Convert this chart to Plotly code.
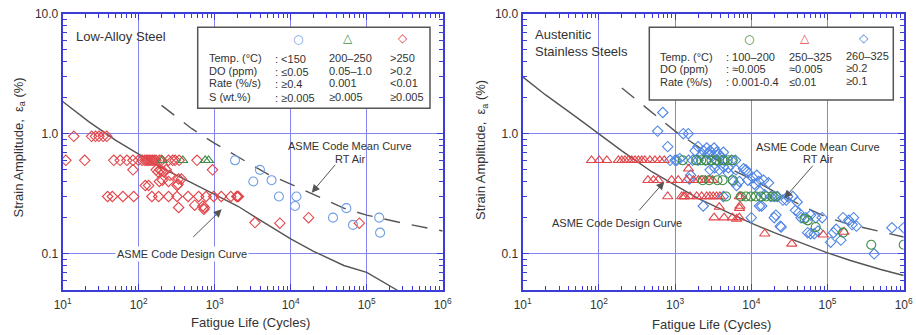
import math
import plotly.graph_objects as go

W, H = 916, 335
FONT = "Liberation Sans, Arial, sans-serif"
SYMFONT = "DejaVu Sans, sans-serif"
TXT = "#333333"
RED = "#e2464b"
BLUE_C = "#6f9fe3"
BLUE_D = "#4f86e6"
GREEN = "#3e8e45"
FRAME = "#3c3cd8"
GRID = "#8585f0"
CURVE = "#555555"

# ---------------- Low-alloy steel data ----------------
la_red_N = [14, 24, 27, 30, 34, 38,
            11, 19.5, 47, 57, 70, 84, 99, 111, 120, 126, 132, 138, 145, 152, 160, 169, 187, 200, 247, 280, 301, 340, 585,
            84, 935, 170, 180, 190, 200, 215, 230,
            122, 135, 187, 205, 247, 258, 320, 335, 365, 330,
            39, 45, 62, 86, 149, 183, 247, 319, 447, 615, 770, 970, 1220, 1630, 1950, 2000, 2050,
            335, 545, 700, 730, 720, 3390, 7200, 17200, 80000]
la_red_e = [0.95, 0.95, 0.95, 0.95, 0.95, 0.95,
            0.6, 0.6, 0.6, 0.6, 0.6, 0.6, 0.6, 0.6, 0.6, 0.6, 0.6, 0.6, 0.6, 0.6, 0.6, 0.6, 0.6, 0.6, 0.6, 0.6, 0.6, 0.6, 0.6,
            0.5, 0.5, 0.5, 0.48, 0.5, 0.49, 0.48, 0.5,
            0.37, 0.37, 0.40, 0.41, 0.40, 0.45, 0.37, 0.42, 0.42, 0.38,
            0.3, 0.3, 0.3, 0.3, 0.3, 0.3, 0.3, 0.3, 0.3, 0.3, 0.3, 0.3, 0.3, 0.3, 0.3, 0.3, 0.3,
            0.243, 0.254, 0.25, 0.243, 0.235, 0.182, 0.18, 0.20, 0.18]
la_blue_N = [1850, 3940, 3220, 5600, 7000, 11900, 11400, 36000, 54000, 66000, 146000, 150000]
la_blue_e = [0.60, 0.50, 0.40, 0.41, 0.30, 0.30, 0.25, 0.20, 0.24, 0.174, 0.20, 0.15]
la_green_N = [205, 380, 750, 830]
la_green_e = [0.6, 0.6, 0.6, 0.6]

la_design_N = [10, 22, 50, 100, 200, 500, 1000, 2000, 3500, 10000, 20000, 50000, 100000, 250000, 400000]
la_design_e = [1.85, 1.26, 0.88, 0.68, 0.52, 0.39, 0.31, 0.25, 0.20, 0.133, 0.105, 0.08, 0.07, 0.05, 0.043]
la_mean_N = [200, 500, 1000, 2000, 5000, 10000, 20000, 50000, 100000, 300000, 1000000]
la_mean_e = [1.72, 1.1, 0.83, 0.64, 0.46, 0.38, 0.31, 0.24, 0.21, 0.18, 0.155]

# ---------------- Austenitic stainless steel data ----------------
ss_red_N = [80, 101, 127, 180, 200, 220, 243, 270, 298, 330, 365, 400, 468, 544, 630, 720,
            1500,
            440, 520, 600, 900, 1100, 1420, 1740, 2020, 2250, 2500, 2800, 3100,
            800, 1220, 1300, 1350, 1570, 1920, 2230, 2600, 2860, 3160, 3500, 3870, 6960, 7300,
            3800, 7100, 7000, 6400,
            3250, 4400, 5660, 6960,
            15000, 34000, 88000, 165000]
ss_red_e = [0.6] * 16 + [0.51] + [0.41] * 12 + [0.3] * 14 + [0.245, 0.25, 0.24, 0.195] + [0.2] * 4 + \
           [0.147, 0.121, 0.144, 0.152]
ss_green_N = [1260, 1890, 2200, 2570, 3000, 3440, 4200, 4900, 5700,
              2300, 2800, 3600, 4200, 5700,
              4660, 7300, 8500, 9900, 11500, 13400, 15600, 19000, 21000,
              50000, 55000, 70000, 160000, 375000, 1000000]
ss_green_e = [0.6] * 9 + [0.41] * 5 + [0.3] * 9 + [0.196, 0.19, 0.167, 0.15, 0.119, 0.119]
ss_blue_N = [590, 690, 800, 1280, 1490,
             1830, 2000, 2350, 2600, 2880, 3250, 3510, 4300, 2200, 2700, 3100, 3700, 4000,
             860, 1050, 1000, 1150, 1500, 1700, 2000, 2500, 3500, 4500, 5500, 6200,
             1540, 1600,
             2880, 3300, 3800, 4300, 5000, 6300, 7900, 8500, 5000,
             5800, 6400, 7000, 8800, 9000, 10500, 11800, 12500, 14500, 16800, 11000,
             4300, 13000, 15000, 18000, 20000, 22000, 26000, 30000, 35000, 40000,
             2340, 12800, 13700, 28700, 38000, 42000,
             10000, 21000, 20000, 45000, 52000, 60000, 70000, 85000, 24600, 24000,
             55000, 60000, 67000, 75000, 120000, 130000, 110000, 150000,
             160000, 190000, 220000, 240000, 210000,
             410000, 700000, 1000000]
ss_blue_e = [1.05, 1.5, 0.78, 1.0, 1.0,
             0.72, 0.78, 0.72, 0.76, 0.72, 0.76, 0.70, 0.70, 0.66, 0.68, 0.65, 0.67, 0.65,
             0.6, 0.6, 0.6, 0.62, 0.6, 0.6, 0.6, 0.6, 0.6, 0.6, 0.6, 0.6,
             0.42, 0.45,
             0.5, 0.52, 0.5, 0.53, 0.52, 0.5, 0.51, 0.5, 0.47,
             0.4, 0.37, 0.4, 0.48, 0.41, 0.43, 0.45, 0.4, 0.41, 0.39, 0.38,
             0.3, 0.33, 0.31, 0.3, 0.3, 0.3, 0.28, 0.3, 0.3, 0.27,
             0.25, 0.25, 0.25, 0.28, 0.23, 0.22,
             0.2, 0.21, 0.2, 0.2, 0.2, 0.21, 0.2, 0.2, 0.167, 0.17,
             0.15, 0.147, 0.147, 0.155, 0.15, 0.16, 0.125, 0.13,
             0.2, 0.19, 0.2, 0.17, 0.175,
             0.1, 0.165, 0.165]

ss_design_N = [10, 20, 50, 100, 200, 500, 1000, 2000, 5000, 10000, 20000, 50000, 100000, 200000, 500000, 1000000]
ss_design_e = [2.97, 2.1, 1.38, 1.0, 0.72, 0.48, 0.37, 0.29, 0.22, 0.18, 0.15, 0.12, 0.102, 0.088, 0.074, 0.066]
ss_mean_N = [200, 500, 1000, 2000, 5000, 10000, 20000, 50000, 100000, 200000, 500000, 1000000]
ss_mean_e = [2.4, 1.5, 1.05, 0.78, 0.52, 0.42, 0.33, 0.245, 0.2, 0.175, 0.152, 0.138]

x_tickvals = [10, 100, 1000, 10000, 100000, 1000000]
x_ticktext = ["10<sup>1</sup>", "10<sup>2</sup>", "10<sup>3</sup>", "10<sup>4</sup>", "10<sup>5</sup>", "10<sup>6</sup>"]
y_tickvals = [0.1, 1, 10]
y_ticktext = ["0.1", "1.0", "10.0"]


def P(px):
    return px / W


def Q(py):
    return 1 - py / H


fig = go.Figure()


def add_panel(xa, ya, traces):
    for t in traces:
        t.update(xaxis=xa, yaxis=ya, showlegend=False, hoverinfo="skip")
        fig.add_trace(t)


def curve(N, e, dash):
    return go.Scatter(x=N, y=e, mode="lines", line=dict(color=CURVE, width=1.4, dash=dash))


def pts(N, e, sym, col, size):
    return go.Scatter(x=N, y=e, mode="markers",
                      marker=dict(symbol=sym, size=size, color=col, line=dict(color=col, width=1.1)))


DASH = "16px,12px"
add_panel("x", "y", [
    curve(la_design_N, la_design_e, "solid"),
    curve(la_mean_N, la_mean_e, DASH),
    pts(la_red_N, la_red_e, "diamond-open", RED, 8),
    pts(la_green_N, la_green_e, "triangle-up-open", GREEN, 9),
    pts(la_blue_N, la_blue_e, "circle-open", BLUE_C, 9),
])
add_panel("x2", "y2", [
    curve(ss_design_N, ss_design_e, "solid"),
    curve(ss_mean_N, ss_mean_e, DASH),
    pts(ss_blue_N, ss_blue_e, "diamond-open", BLUE_D, 8),
    pts(ss_red_N, ss_red_e, "triangle-up-open", RED, 9),
    pts(ss_green_N, ss_green_e, "circle-open", GREEN, 9),
])

minor_x = [k * 10 ** d for d in range(1, 6) for k in range(2, 10)]
minor_y = [k * 10 ** d for d in (-2, -1, 0) for k in range(2, 10) if k * 10 ** d >= 0.05]

ydom = [Q(290), Q(13.5)]


def xaxis(dom, anchor):
    return dict(type="log", range=[1, 6], domain=dom, anchor=anchor, automargin=False,
                showgrid=True, gridcolor=GRID, gridwidth=1,
                showline=True, linecolor=FRAME, linewidth=2, mirror="allticks",
                ticks="inside", ticklen=6, tickcolor=FRAME, tickwidth=1.2,
                tickvals=x_tickvals, ticktext=x_ticktext, ticklabelstandoff=3,
                tickfont=dict(family=FONT, size=12, color=TXT),
                minor=dict(tickvals=minor_x, ticks="inside", ticklen=4, tickcolor=FRAME, showgrid=False),
                zeroline=False, fixedrange=True)


def yaxis(anchor):
    return dict(type="log", range=[math.log10(0.05), 1], domain=ydom, anchor=anchor, automargin=False,
                showgrid=True, gridcolor=GRID, gridwidth=1,
                showline=True, linecolor=FRAME, linewidth=2, mirror="allticks",
                ticks="inside", ticklen=6, tickcolor=FRAME, tickwidth=1.2,
                tickvals=y_tickvals, ticktext=y_ticktext,
                tickfont=dict(family=FONT, size=12, color=TXT),
                minor=dict(tickvals=minor_y, ticks="inside", ticklen=4, tickcolor=FRAME, showgrid=False),
                zeroline=False, fixedrange=True)


fig.update_layout(
    template="none",
    width=W, height=H, autosize=False,
    margin=dict(l=0, r=0, t=0, b=0, pad=0, autoexpand=False),
    paper_bgcolor="white", plot_bgcolor="white",
    font=dict(family=FONT, color=TXT),
    xaxis=xaxis([P(62.7), P(442.7)], "y"),
    yaxis=yaxis("x"),
    xaxis2=xaxis([P(522.7), P(903.7)], "y2"),
    yaxis2=yaxis("x2"),
)

# legend boxes
fig.add_shape(type="rect", xref="paper", yref="paper", x0=P(197.7), x1=P(430), y0=Q(108.3), y1=Q(27.3),
              line=dict(color="#555555", width=1.5), fillcolor="white", layer="above")
fig.add_shape(type="rect", xref="paper", yref="paper", x0=P(649.3), x1=P(893.3), y0=Q(100), y1=Q(27.3),
              line=dict(color="#555555", width=1.5), fillcolor="white", layer="above")

ann = []


def T(px, py, text, size=11, xanchor="left", color=TXT, align="left", bg=None, yanchor="middle", family=FONT):
    d = dict(x=P(px), y=Q(py), xref="paper", yref="paper", text=text, showarrow=False,
             xanchor=xanchor, yanchor=yanchor, align=align,
             font=dict(family=family, size=size, color=color))
    if bg:
        d["bgcolor"] = bg
    ann.append(d)


def ARROW(hx, hy, tx, ty):
    ann.append(dict(x=P(hx), y=Q(hy), xref="paper", yref="paper", text=" ", showarrow=True,
                    ax=tx - hx, ay=ty - hy, arrowhead=2, arrowsize=1.6, arrowwidth=1,
                    arrowcolor="#555555", font=dict(size=1)))


# Left legend content
rows_l = [57.7, 70.7, 83.3, 96.7]
labels_l = ["Temp. (°C)", "DO (ppm)", "Rate (%/s)", "S (wt.%)"]
c1_l = [": <150", ": ≤0.05", ": ≥0.4", ": ≥0.005"]
c2_l = ["200–250", "0.05–1.0", "0.001", "≥0.005"]
c3_l = [">250", ">0.2", "<0.01", "≥0.005"]
for i, y in enumerate(rows_l):
    T(206.5, y, labels_l[i])
    T(272.5, y + 1, c1_l[i])
    T(326.5, y, c2_l[i])
    T(388, y, c3_l[i])
T(297.7, 39, "○", size=12, xanchor="center", color=BLUE_C, family=SYMFONT)
T(347.7, 38, "△", size=12, xanchor="center", color=GREEN, family=SYMFONT)
T(403.3, 38, "◇", size=12, xanchor="center", color=RED, family=SYMFONT)

# Right legend content
rows_r = [57, 69.5, 82]
labels_r = ["Temp. (°C)", "DO (ppm)", "Rate (%/s)"]
c1_r = [": 100–200", ": ≈0.005", ": 0.001-0.4"]
c2_r = ["250–325", "≈0.005", "≤0.01"]
c3_r = ["260–325", "≥0.2", "≥0.1"]
for i, y in enumerate(rows_r):
    T(657.5, y, labels_r[i])
    T(723.5, y, c1_r[i])
    T(787, y, c2_r[i])
    T(843.5, y - 1.5, c3_r[i])
T(749.3, 39, "○", size=12, xanchor="center", color=GREEN, family=SYMFONT)
T(805.3, 38, "△", size=12, xanchor="center", color=RED, family=SYMFONT)
T(864.3, 38, "◇", size=12, xanchor="center", color=BLUE_D, family=SYMFONT)

# Panel titles
T(73.5, 36.5, "Low-Alloy Steel", size=13)
T(533, 43.5, "Austenitic<br>Stainless Steels", size=13)

# Curve labels
T(350, 146, "ASME Code Mean Curve", size=11, xanchor="center")
T(350, 158.5, "RT Air", size=11, xanchor="center")
ARROW(311.7, 192.7, 336.7, 163)
T(181.7, 254, "ASME Code Design Curve", size=11, xanchor="center", bg="white")
ARROW(221.7, 209.3, 191.7, 238.5)

T(817.7, 146.7, "ASME Code Mean Curve", size=11, xanchor="center")
T(817.7, 159.3, "RT Air", size=11, xanchor="center")
ARROW(784.3, 198.3, 814.3, 164)
T(617, 222.7, "ASME Code Design Curve", size=11, xanchor="center")
ARROW(664.3, 181.7, 637.7, 212)

# Axis titles
YT = "Strain Amplitude,  ε<sub>a</sub> (%)"
ann.append(dict(x=P(18.5), y=Q(148), xref="paper", yref="paper", text=YT, textangle=-90,
                showarrow=False, xanchor="center", yanchor="middle", font=dict(family=FONT, size=13, color=TXT)))
ann.append(dict(x=P(481), y=Q(150), xref="paper", yref="paper", text=YT, textangle=-90,
                showarrow=False, xanchor="center", yanchor="middle", font=dict(family=FONT, size=13, color=TXT)))
T(250, 322.5, "Fatigue Life (Cycles)", size=13, xanchor="center")
T(711, 324.5, "Fatigue Life (Cycles)", size=13, xanchor="center")

fig.update_layout(annotations=ann)
fig.write_html("out.html", config={"displayModeBar": False},
               post_script="document.body.style.margin='0px';document.body.style.overflow='hidden';")
